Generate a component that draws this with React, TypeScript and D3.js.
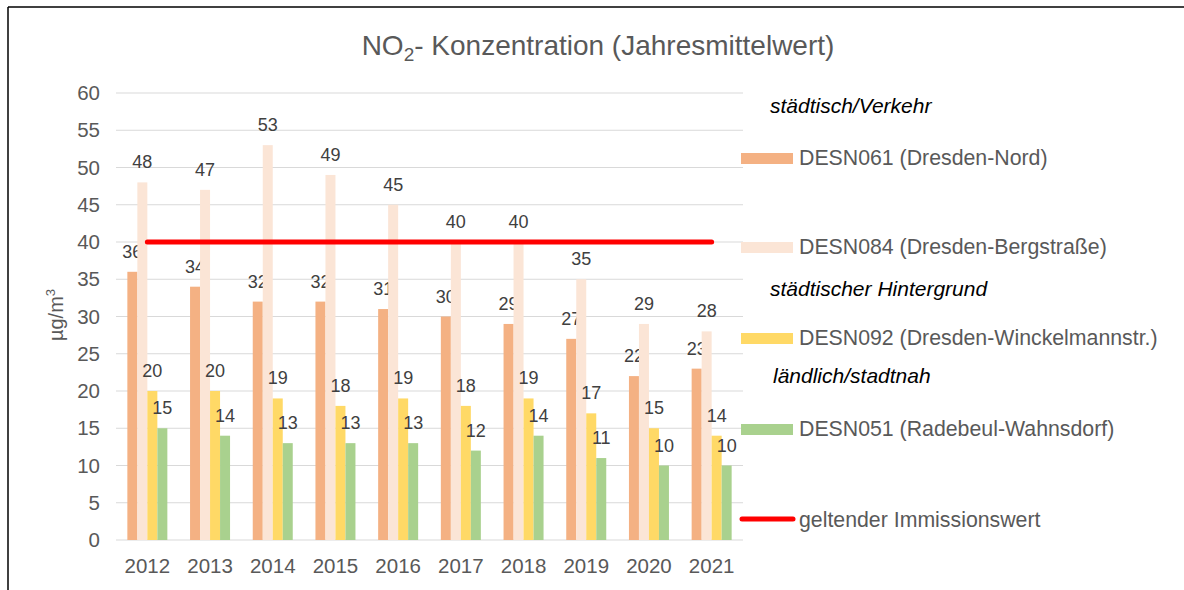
import React from 'react';
import * as d3 from 'd3';

const years = ['2012', '2013', '2014', '2015', '2016', '2017', '2018', '2019', '2020', '2021'];
const desn061 = [36, 34, 32, 32, 31, 30, 29, 27, 22, 23];
const desn084 = [48, 47, 53, 49, 45, 40, 40, 35, 29, 28];
const desn092 = [20, 20, 19, 18, 19, 18, 19, 17, 15, 14];
const desn051 = [15, 14, 13, 13, 13, 12, 14, 11, 10, 10];
const limitValue = 40;
const yTicks = [0, 5, 10, 15, 20, 25, 30, 35, 40, 45, 50, 55, 60];

const series = [
  { name: 'DESN061 (Dresden-Nord)', values: desn061, color: '#F4B183' },
  { name: 'DESN084 (Dresden-Bergstraße)', values: desn084, color: '#FBE5D6' },
  { name: 'DESN092 (Dresden-Winckelmannstr.)', values: desn092, color: '#FFD966' },
  { name: 'DESN051 (Radebeul-Wahnsdorf)', values: desn051, color: '#A9D18E' },
];

const FONT = '"Liberation Sans", Arial, sans-serif';

const App = () => {
  const x = d3.scaleBand().domain(years).range([116, 743]);
  const y = d3.scaleLinear().domain([0, 60]).range([540, 93]);
  const inner = d3.scaleBand<number>().domain([0, 1, 2, 3]).range([-20, 20]);

  const centerX = (yr: string) => (x(yr) as number) + x.bandwidth() / 2;

  // legend rows
  const legend = [
    { kind: 'head', text: 'städtisch/Verkehr', y: 113, x: 770 },
    { kind: 'bar', s: 0, y: 165 },
    { kind: 'bar', s: 1, y: 254 },
    { kind: 'head', text: 'städtischer Hintergrund', y: 296, x: 770 },
    { kind: 'bar', s: 2, y: 345 },
    { kind: 'head', text: 'ländlich/stadtnah', y: 383, x: 773 },
    { kind: 'bar', s: 3, y: 436 },
  ];

  return (
    <svg width={1184} height={590} style={{ position: 'absolute', left: 0, top: 0, background: '#fff' }} fontFamily={FONT}>
      <rect x={0} y={0} width={1184} height={590} fill="#fff" />
      <line x1={8} x2={1184} y1={7} y2={7} stroke="#000" strokeWidth={1.5} />
      <line x1={8} x2={8} y1={7} y2={590} stroke="#000" strokeWidth={1.5} />

      <text x={598} y={55} textAnchor="middle" fontSize={28} fill="#595959">
        NO<tspan fontSize={19} dy={6}>2</tspan><tspan dy={-6}>- Konzentration (Jahresmittelwert)</tspan>
      </text>

      {yTicks.map(t => (
        <g key={t}>
          <line x1={116} x2={743} y1={y(t)} y2={y(t)} stroke="#d9d9d9" strokeWidth={1} />
          <text x={100} y={y(t) + 7} textAnchor="end" fontSize={20.5} fill="#595959">{t}</text>
        </g>
      ))}

      <text transform="translate(63,315) rotate(-90)" textAnchor="middle" fontSize={20} fill="#595959">
        µg/m<tspan fontSize={13} dy={-8}>3</tspan>
      </text>

      {years.map((yr, i) => (
        <g key={yr}>
          {series.map((s, j) => {
            const bx = centerX(yr) + (inner(j) as number);
            const v = s.values[i];
            return (
              <g key={j}>
                <rect x={bx} y={y(v)} width={inner.bandwidth()} height={y(0) - y(v)} fill={s.color} />
                <text x={bx + inner.bandwidth() / 2} y={y(v) - 14} textAnchor="middle" fontSize={18} fill="#404040">{v}</text>
              </g>
            );
          })}
          <text x={centerX(yr)} y={573} textAnchor="middle" fontSize={20.5} fill="#595959">{yr}</text>
        </g>
      ))}

      <line x1={centerX(years[0])} x2={centerX(years[years.length - 1])} y1={y(limitValue)} y2={y(limitValue)}
        stroke="#FF0000" strokeWidth={5} strokeLinecap="round" />

      {legend.map((l, k) =>
        l.kind === 'head' ? (
          <text key={k} x={l.x} y={l.y} fontSize={21} fontStyle="italic" fill="#000">{l.text}</text>
        ) : (
          <g key={k}>
            <rect x={741} y={l.y - 12} width={52} height={11} fill={series[l.s as number].color} />
            <text x={799} y={l.y} fontSize={21.3} fill="#595959">{series[l.s as number].name}</text>
          </g>
        )
      )}
      <line x1={742} x2={793} y1={519} y2={519} stroke="#FF0000" strokeWidth={5} strokeLinecap="round" />
      <text x={799} y={527} fontSize={21.3} fill="#595959">geltender Immissionswert</text>
    </svg>
  );
};

export default App;
